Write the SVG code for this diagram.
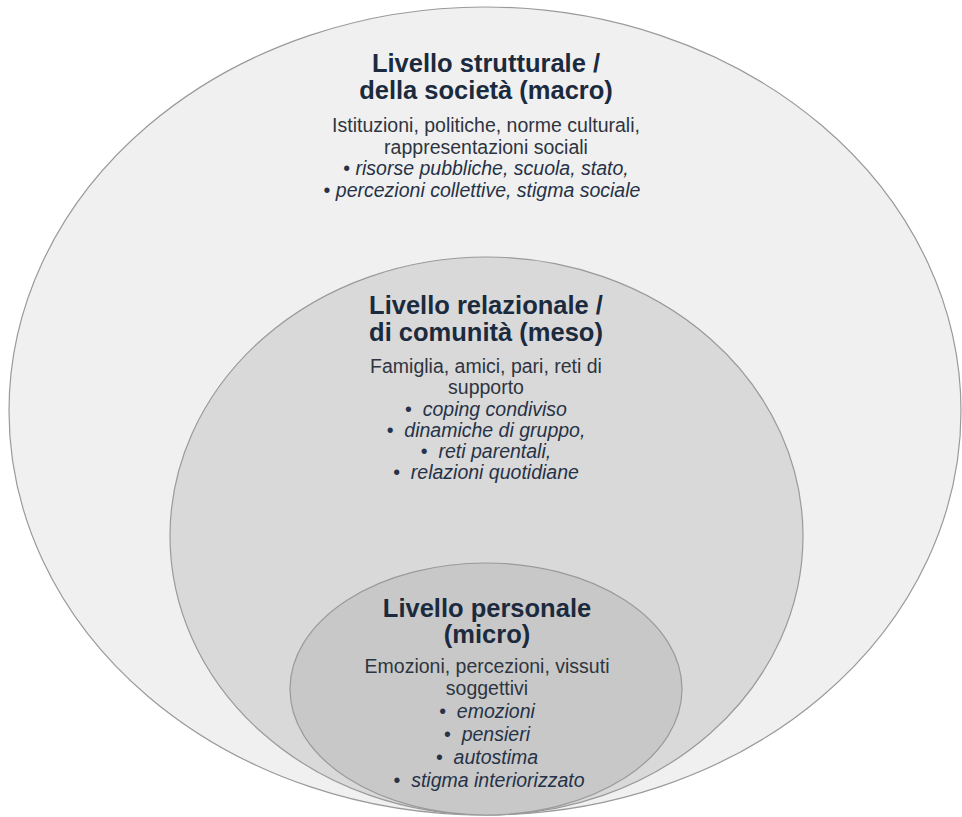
<svg xmlns="http://www.w3.org/2000/svg" width="962" height="817" viewBox="0 0 962 817">
<style>
.lvl{stroke:#9a9a9a;stroke-width:1.2}
.title{font-family:"Liberation Sans",Arial,sans-serif;font-weight:bold;font-size:25.5px;fill:#1c2a3e;text-anchor:middle}
.body{font-family:"Liberation Sans",Arial,sans-serif;font-size:19.5px;fill:#2e3540;text-anchor:middle}
.it{font-style:italic;fill:#263247}
.bl{font-style:normal}
</style>
<rect width="962" height="817" fill="#ffffff"/>
<g id="macro">
<ellipse class="lvl" cx="485" cy="411" rx="476" ry="404" fill="#f0f0f0"/>
<text class="title" x="486" y="72">Livello strutturale /</text>
<text class="title" x="486" y="99">della società (macro)</text>
<text class="body" x="486" y="132" font-size="20">Istituzioni, politiche, norme culturali,</text>
<text class="body" x="486" y="153.5" font-size="20">rappresentazioni sociali</text>
<text class="body it" x="486" y="175" font-size="20"><tspan class="bl">•</tspan> risorse pubbliche, scuola, stato,</text>
<text class="body it" x="482" y="197" font-size="20"><tspan class="bl">•</tspan> percezioni collettive, stigma sociale</text>
</g>
<g id="meso">
<ellipse class="lvl" cx="486.5" cy="536" rx="316.5" ry="279" fill="#d9d9d9"/>
<text class="title" x="486" y="314">Livello relazionale /</text>
<text class="title" x="486" y="341">di comunità (meso)</text>
<text class="body" x="486" y="373">Famiglia, amici, pari, reti di</text>
<text class="body" x="486" y="394">supporto</text>
<text class="body it" x="486" y="416"><tspan class="bl">•</tspan>&#160;&#160;coping condiviso</text>
<text class="body it" x="486" y="437"><tspan class="bl">•</tspan>&#160;&#160;dinamiche di gruppo,</text>
<text class="body it" x="486" y="458"><tspan class="bl">•</tspan>&#160;&#160;reti parentali,</text>
<text class="body it" x="486" y="479"><tspan class="bl">•</tspan>&#160;&#160;relazioni quotidiane</text>
</g>
<g id="micro">
<ellipse class="lvl" cx="486" cy="689" rx="196" ry="126" fill="#c8c8c8"/>
<text class="title" x="487" y="617">Livello personale</text>
<text class="title" x="487" y="643">(micro)</text>
<text class="body" x="487" y="673">Emozioni, percezioni, vissuti</text>
<text class="body" x="487" y="695">soggettivi</text>
<text class="body it" x="487" y="718"><tspan class="bl">•</tspan>&#160;&#160;emozioni</text>
<text class="body it" x="487" y="741"><tspan class="bl">•</tspan>&#160;&#160;pensieri</text>
<text class="body it" x="487" y="764"><tspan class="bl">•</tspan>&#160;&#160;autostima</text>
<text class="body it" x="489" y="787"><tspan class="bl">•</tspan>&#160;&#160;stigma interiorizzato</text>
</g>
<g id="connectors"/>
</svg>
